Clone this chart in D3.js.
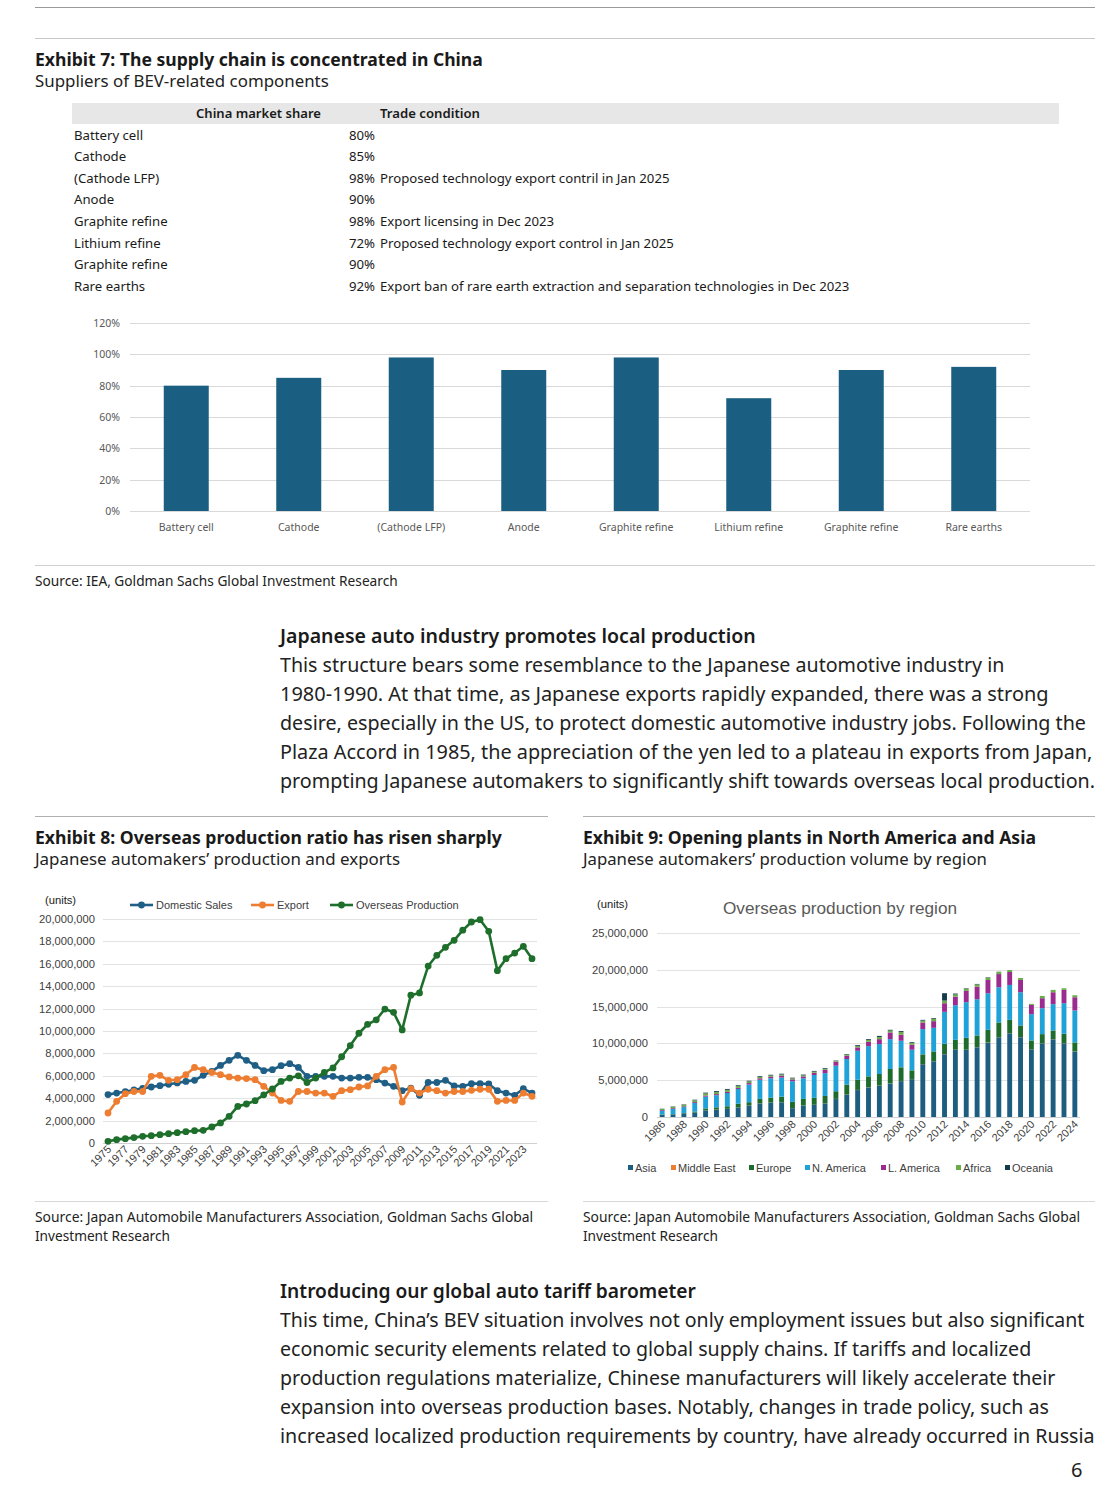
<!DOCTYPE html>
<html><head><meta charset="utf-8">
<script src="https://cdn.jsdelivr.net/npm/d3@7"></script>
<style>body{margin:0;background:#fff}svg{display:block}</style>
</head><body>
<script>
// ---------- DATA ----------
const ex7Categories = ["Battery cell","Cathode","(Cathode LFP)","Anode","Graphite refine","Lithium refine","Graphite refine","Rare earths"];
const ex7Share = [0.80,0.85,0.98,0.90,0.98,0.72,0.90,0.92];
const ex7Conditions = ["","","Proposed technology export contril in Jan 2025","","Export licensing in Dec 2023","Proposed technology export control in Jan 2025","","Export ban of rare earth extraction and separation technologies in Dec 2023"];
const ex7Ticks = [0,0.2,0.4,0.6,0.8,1.0,1.2];

const ex8Years = d3.range(1975, 2025);
const ex8Domestic = [4.32,4.46,4.58,4.73,4.88,5.00,5.12,5.24,5.36,5.50,
  5.60,6.04,6.40,6.93,7.38,7.83,7.38,6.93,6.46,6.55,
  6.90,7.08,6.75,5.95,5.95,5.95,5.95,5.80,5.80,5.86,
  5.86,5.65,5.35,5.06,4.67,4.90,4.26,5.40,5.40,5.60,
  5.10,5.06,5.30,5.30,5.27,4.67,4.46,4.26,4.85,4.46];
const ex8Export = [2.68,3.72,4.40,4.60,4.60,5.95,6.04,5.60,5.65,6.10,
  6.75,6.55,6.30,6.10,5.90,5.80,5.75,5.65,5.06,4.46,
  3.80,3.72,4.60,4.60,4.46,4.46,4.17,4.67,4.76,5.00,
  5.10,5.95,6.55,6.75,3.66,4.85,4.46,4.80,4.67,4.46,
  4.60,4.60,4.70,4.80,4.80,3.72,3.80,3.80,4.46,4.17];
const ex8Overseas = [0.15,0.30,0.39,0.48,0.60,0.65,0.74,0.83,0.92,1.01,
  1.10,1.13,1.43,1.79,2.38,3.27,3.48,3.78,4.30,4.82,
  5.50,5.80,6.00,5.40,5.80,6.30,6.70,7.70,8.70,9.80,
  10.60,11.00,11.96,11.67,10.10,13.20,13.40,15.80,16.76,17.47,
  18.10,19.00,19.73,19.94,18.90,15.39,16.46,16.96,17.56,16.46];
const ex8Ticks = [0,2,4,6,8,10,12,14,16,18,20];

const ex9Years = d3.range(1986, 2025);
const ex9Asia = [0.30,0.35,0.50,0.60,0.90,1.00,1.10,1.30,1.55,1.85,1.95,2.00,1.20,1.55,1.65,1.85,
  2.44,3.02,3.66,4.02,4.24,4.56,4.88,5.15,7.18,7.58,8.53,9.12,9.12,9.48,10.11,10.84,11.38,10.84,9.21,10.02,10.56,10.02,8.89];
const ex9MiddleEast = [0,0,0,0,0.01,0.01,0.01,0.01,0.01,0.01,0.01,0.01,0.01,0.01,0.01,0.01,
  0.02,0.02,0.02,0.02,0.02,0.02,0.02,0.02,0.02,0.02,0.02,0.02,0.02,0.02,0.02,0.02,0.02,0.02,0.02,0.02,0.02,0.02,0.02];
const ex9Europe = [0.05,0.05,0.05,0.15,0.25,0.30,0.35,0.50,0.45,0.60,0.65,0.75,0.85,0.90,0.95,1.00,
  1.04,1.36,1.40,1.48,1.58,1.94,1.85,1.17,1.31,1.31,1.40,1.35,1.62,1.58,1.72,1.98,1.80,1.58,1.17,1.22,1.18,1.27,1.22];
const ex9NAmerica = [0.50,0.70,0.80,1.15,1.60,1.65,1.80,2.00,2.40,2.60,2.65,2.60,2.80,2.80,3.10,3.10,
  3.47,3.48,3.92,4.10,4.07,4.06,3.61,2.80,3.43,3.21,4.34,4.70,4.84,4.92,4.96,4.79,4.74,4.51,3.57,3.52,3.56,4.15,4.34];
const ex9LAmerica = [0.10,0.10,0.10,0.12,0.15,0.15,0.15,0.15,0.20,0.20,0.20,0.25,0.25,0.25,0.30,0.45,
  0.55,0.44,0.46,0.60,0.67,0.91,0.81,0.68,0.90,0.90,1.17,1.17,1.53,1.72,1.81,1.79,1.76,1.67,1.26,1.36,1.63,1.81,1.80];
const ex9Africa = [0.15,0.20,0.22,0.25,0.30,0.30,0.28,0.25,0.22,0.20,0.18,0.17,0.15,0.15,0.15,0.15,
  0.12,0.15,0.20,0.25,0.30,0.25,0.35,0.26,0.26,0.31,0.36,0.30,0.30,0.30,0.30,0.30,0.27,0.27,0.14,0.31,0.32,0.22,0.27];
const ex9Oceania = [0.03,0.04,0.05,0.08,0.10,0.12,0.12,0.10,0.10,0.10,0.10,0.10,0.08,0.10,0.10,0.10,
  0.05,0.08,0.11,0.11,0.14,0.11,0.15,0.10,0.10,0.10,1.00,0.11,0.06,0.06,0.06,0.02,0,0,0,0,0,0,0];
const ex9Regions = ["Asia","Middle East","Europe","N. America","L. America","Africa","Oceania"];
const ex9Ticks = [0,5,10,15,20,25];

const para1 = ["This structure bears some resemblance to the Japanese automotive industry in",
  "1980-1990. At that time, as Japanese exports rapidly expanded, there was a strong",
  "desire, especially in the US, to protect domestic automotive industry jobs. Following the",
  "Plaza Accord in 1985, the appreciation of the yen led to a plateau in exports from Japan,",
  "prompting Japanese automakers to significantly shift towards overseas local production."];
const para2 = ["This time, China\u2019s BEV situation involves not only employment issues but also significant",
  "economic security elements related to global supply chains. If tariffs and localized",
  "production regulations materialize, Chinese manufacturers will likely accelerate their",
  "expansion into overseas production bases. Notably, changes in trade policy, such as",
  "increased localized production requirements by country, have already occurred in Russia"];

// ---------- PAGE ----------
const W = 1118, H = 1499;
const svg = d3.select("body").append("svg").attr("width", W).attr("height", H);
const DOC = "'Noto Sans', 'Open Sans', sans-serif";
const XL = "'Liberation Sans', Arial, sans-serif";

function fit(sel, w) {
  const len = sel.node().getComputedTextLength();
  const fs = parseFloat(sel.attr("font-size"));
  if (len > 0) sel.attr("font-size", (fs * w / len).toFixed(2));
  return sel;
}
function txt(x, y, s, size, opts = {}) {
  const t = svg.append("text").attr("x", x).attr("y", y).text(s)
    .attr("font-family", opts.family || DOC).attr("font-size", size)
    .attr("fill", opts.fill || "#1a1a1a")
    .attr("font-weight", opts.weight || 400)
    .attr("text-anchor", opts.anchor || "start");
  if (opts.w) fit(t, opts.w);
  return t;
}
function hline(x1, x2, y, c, sw = 1) {
  svg.append("line").attr("x1", x1).attr("x2", x2).attr("y1", y).attr("y2", y)
    .attr("stroke", c).attr("stroke-width", sw);
}

// rules
hline(35, 1095, 7.5, "#9a9a9a");
hline(35, 1095, 38.5, "#c8c8c8");
hline(35, 1095, 565.5, "#d0d0d0");
hline(35, 548, 816.5, "#b0b0b0");
hline(583, 1095, 816.5, "#b0b0b0");
hline(35, 548, 1201.5, "#d8d8d8");
hline(583, 1095, 1201.5, "#d8d8d8");

// ---------- EXHIBIT 7 ----------
txt(35, 66, "Exhibit 7: The supply chain is concentrated in China", 18, {weight: 700, w: 448});
txt(35, 87, "Suppliers of BEV-related components", 16, {w: 294, fill: "#222"});

svg.append("rect").attr("x", 72).attr("y", 103).attr("width", 987).attr("height", 21).attr("fill", "#e7e7e7");
txt(196, 118, "China market share", 13, {weight: 600, w: 125});
txt(380, 118, "Trade condition", 13, {weight: 600, w: 100});

const rowY = d3.scaleBand().domain(d3.range(ex7Categories.length)).range([124.5, 297]);
const rows = svg.append("g").attr("font-family", DOC).attr("font-size", 13.2).attr("fill", "#1a1a1a");
ex7Categories.forEach((c, i) => {
  const y = rowY(i) + rowY.bandwidth() / 2 + 4.5;
  rows.append("text").attr("x", 74).attr("y", y).text(c);
  rows.append("text").attr("x", 375).attr("y", y).attr("text-anchor", "end").text(d3.format(".0%")(ex7Share[i]));
  if (ex7Conditions[i]) rows.append("text").attr("x", 380).attr("y", y).text(ex7Conditions[i]);
});

const x7 = d3.scaleBand().domain(d3.range(ex7Categories.length)).range([130, 1030]).paddingInner(0.6).paddingOuter(0.3);
const y7 = d3.scaleLinear().domain([0, 1.2]).range([511, 323]);
const g7 = svg.append("g");
g7.selectAll("line.grid").data(ex7Ticks).join("line")
  .attr("x1", 130).attr("x2", 1030).attr("y1", d => Math.round(y7(d)) + 0.5).attr("y2", d => Math.round(y7(d)) + 0.5)
  .attr("stroke", "#d9d9d9").attr("stroke-width", 1);
g7.selectAll("text.yt").data(ex7Ticks).join("text")
  .attr("x", 120).attr("y", d => y7(d) + 4).attr("text-anchor", "end")
  .attr("font-family", DOC).attr("font-size", 10.5).attr("fill", "#595959")
  .text(d => d3.format(".0%")(d));
g7.selectAll("rect").data(ex7Share).join("rect")
  .attr("x", (d, i) => x7(i)).attr("width", x7.bandwidth())
  .attr("y", d => y7(d)).attr("height", d => y7(0) - y7(d)).attr("fill", "#1a5f82");
g7.selectAll("text.xc").data(ex7Categories).join("text")
  .attr("x", (d, i) => x7(i) + x7.bandwidth() / 2).attr("y", 531).attr("text-anchor", "middle")
  .attr("font-family", DOC).attr("font-size", 10.5).attr("fill", "#595959").text(d => d);

txt(35, 586, "Source: IEA, Goldman Sachs Global Investment Research", 13, {w: 363, fill: "#222"});

// ---------- paragraph 1 ----------
txt(280, 643, "Japanese auto industry promotes local production", 19, {weight: 600, w: 476});
const p1w = [725, 769, 806, 813, 816];
para1.forEach((l, i) => txt(280, 672 + i * 29, l, 19, {w: p1w[i], fill: "#222"}));

// ---------- EXHIBIT 8 ----------
txt(35, 844, "Exhibit 8: Overseas production ratio has risen sharply", 18, {weight: 700, w: 467});
txt(35, 865, "Japanese automakers\u2019 production and exports", 16, {w: 365, fill: "#222"});

const x8 = d3.scaleLinear().domain([1975, 2024]).range([108, 532]);
const y8 = d3.scaleLinear().domain([0, 20]).range([1143, 919]);
const g8 = svg.append("g");
g8.selectAll("line.grid").data(ex8Ticks).join("line")
  .attr("x1", 103).attr("x2", 537).attr("y1", d => Math.round(y8(d)) + 0.5).attr("y2", d => Math.round(y8(d)) + 0.5)
  .attr("stroke", d => d === 0 ? "#d0d0d0" : "#e3e3e3");
g8.selectAll("text.yt").data(ex8Ticks).join("text")
  .attr("x", 95).attr("y", d => y8(d) + 4).attr("text-anchor", "end")
  .attr("font-family", XL).attr("font-size", 11.2).attr("fill", "#404040")
  .text(d => d3.format(",")(d * 1000000));
g8.selectAll("text.xt").data(ex8Years.filter((d, i) => i % 2 === 0)).join("text")
  .attr("transform", d => `translate(${x8(d) + 4},${1150}) rotate(-45)`)
  .attr("text-anchor", "end").attr("font-family", XL).attr("font-size", 11).attr("fill", "#404040")
  .text(d => d);

const ex8Series = [
  {name: "Domestic Sales", values: ex8Domestic, color: "#1f5f86"},
  {name: "Export", values: ex8Export, color: "#ed7d31"},
  {name: "Overseas Production", values: ex8Overseas, color: "#1e6f2b"}
];
const line8 = d3.line().x((d, i) => x8(ex8Years[i])).y(d => y8(d));
ex8Series.forEach(s => {
  g8.append("path").datum(s.values).attr("d", line8).attr("fill", "none")
    .attr("stroke", s.color).attr("stroke-width", 2.6).attr("stroke-linejoin", "round");
  g8.selectAll(null).data(s.values).join("circle")
    .attr("cx", (d, i) => x8(ex8Years[i])).attr("cy", d => y8(d)).attr("r", 3.4).attr("fill", s.color);
});
txt(45, 904, "(units)", 11.2, {family: XL});
const leg8X = [130, 251, 330];
ex8Series.forEach((s, i) => {
  const lx = leg8X[i];
  g8.append("line").attr("x1", lx).attr("x2", lx + 23).attr("y1", 905).attr("y2", 905).attr("stroke", s.color).attr("stroke-width", 2.6);
  g8.append("circle").attr("cx", lx + 11.5).attr("cy", 905).attr("r", 3.4).attr("fill", s.color);
  g8.append("text").attr("x", lx + 26).attr("y", 909).attr("font-family", XL).attr("font-size", 11).attr("fill", "#404040").text(s.name);
});

txt(35, 1222, "Source: Japan Automobile Manufacturers Association, Goldman Sachs Global", 13, {w: 498, fill: "#222"});
txt(35, 1241, "Investment Research", 13, {w: 135, fill: "#222"});

// ---------- EXHIBIT 9 ----------
txt(583, 844, "Exhibit 9: Opening plants in North America and Asia", 18, {weight: 700, w: 453});
txt(583, 865, "Japanese automakers\u2019 production volume by region", 16, {w: 404, fill: "#222"});

const x9 = d3.scaleBand().domain(ex9Years).range([657, 1080]).paddingInner(0.55).paddingOuter(0.25);
const y9 = d3.scaleLinear().domain([0, 25]).range([1117, 933]);
const g9 = svg.append("g");
g9.selectAll("line.grid").data(ex9Ticks).join("line")
  .attr("x1", 657).attr("x2", 1080).attr("y1", d => Math.round(y9(d)) + 0.5).attr("y2", d => Math.round(y9(d)) + 0.5)
  .attr("stroke", d => d === 0 ? "#d0d0d0" : "#e3e3e3");
g9.selectAll("text.yt").data(ex9Ticks).join("text")
  .attr("x", 648).attr("y", d => y9(d) + 4).attr("text-anchor", "end")
  .attr("font-family", XL).attr("font-size", 11.2).attr("fill", "#404040")
  .text(d => d3.format(",")(d * 1000000));
const ex9Table = ex9Years.map((y, i) => ({
  year: y, "Asia": ex9Asia[i], "Middle East": ex9MiddleEast[i], "Europe": ex9Europe[i],
  "N. America": ex9NAmerica[i], "L. America": ex9LAmerica[i], "Africa": ex9Africa[i], "Oceania": ex9Oceania[i]
}));
const ex9Colors = d3.scaleOrdinal().domain(ex9Regions)
  .range(["#1d5e80", "#ed7d31", "#1e6b2e", "#1ea2d8", "#9b2b8e", "#6aab4a", "#143a4c"]);
const stack9 = d3.stack().keys(ex9Regions)(ex9Table);
stack9.forEach(layer => {
  g9.selectAll(null).data(layer).join("rect")
    .attr("x", d => x9(d.data.year)).attr("width", x9.bandwidth())
    .attr("y", d => y9(d[1])).attr("height", d => Math.max(0, y9(d[0]) - y9(d[1])))
    .attr("fill", ex9Colors(layer.key));
});
g9.selectAll("text.xt").data(ex9Years.filter((d, i) => i % 2 === 0)).join("text")
  .attr("transform", d => `translate(${x9(d) + x9.bandwidth() / 2 + 4},${1125}) rotate(-45)`)
  .attr("text-anchor", "end").attr("font-family", XL).attr("font-size", 11).attr("fill", "#404040")
  .text(d => d);
txt(597, 908, "(units)", 11.2, {family: XL});
txt(840, 914, "Overseas production by region", 17.2, {family: XL, anchor: "middle", fill: "#595959"});
const leg9X = [628, 671, 749, 805, 881, 956, 1005];
ex9Regions.forEach((r, i) => {
  g9.append("rect").attr("x", leg9X[i]).attr("y", 1165).attr("width", 5).attr("height", 5).attr("fill", ex9Colors(r));
  g9.append("text").attr("x", leg9X[i] + 7).attr("y", 1172).attr("font-family", XL).attr("font-size", 11).attr("fill", "#404040").text(r);
});

txt(583, 1222, "Source: Japan Automobile Manufacturers Association, Goldman Sachs Global", 13, {w: 497, fill: "#222"});
txt(583, 1241, "Investment Research", 13, {w: 135, fill: "#222"});

// ---------- paragraph 2 ----------
txt(280, 1298, "Introducing our global auto tariff barometer", 19, {weight: 600, w: 416});
const p2w = [805, 752, 776, 769, 815];
para2.forEach((l, i) => txt(280, 1327 + i * 29, l, 19, {w: p2w[i], fill: "#222"}));

txt(1071, 1477, "6", 20, {fill: "#222"});
</script>
</body></html>
